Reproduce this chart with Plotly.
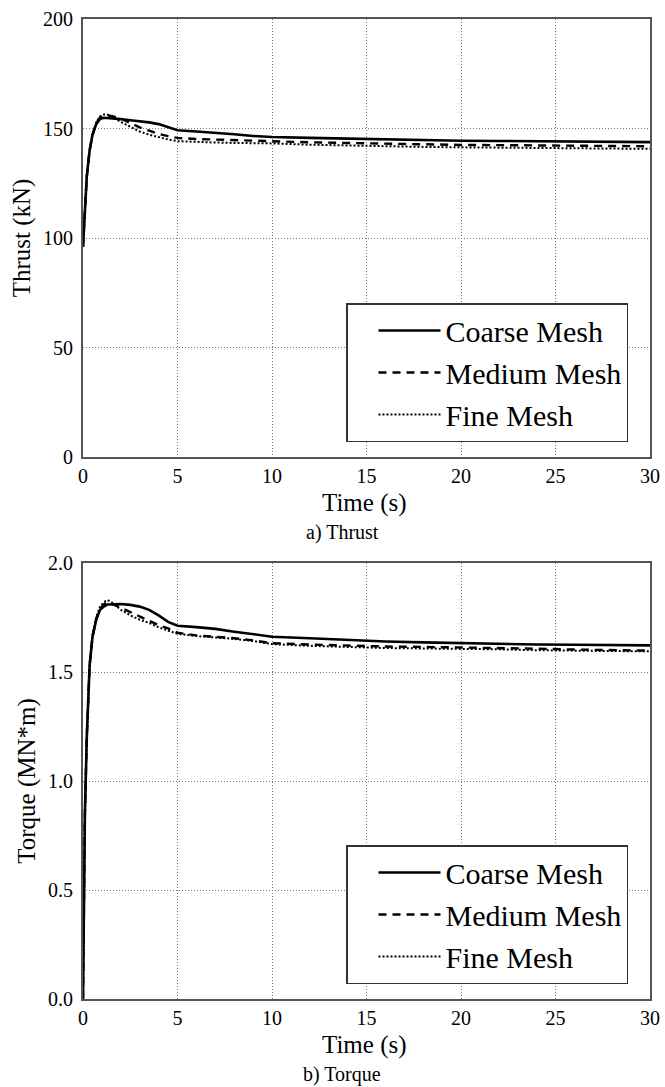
import plotly.graph_objects as go
from plotly.subplots import make_subplots

# ---- data ----
time_s = [0, 0.1, 0.2, 0.35, 0.5, 0.7, 0.9, 1.1, 1.3, 1.6, 2.0, 2.5, 3.0, 3.5, 4.0, 4.5,
          5, 6, 7, 8, 9, 10, 12, 14, 16, 18, 20, 22, 24, 26, 28, 30]

thrust_coarse = [96, 115, 128, 140, 147, 152, 154.3, 154.9, 154.8, 154.6, 154.3, 153.8,
                 153.4, 152.8, 152.0, 150.5, 149.2, 148.6, 148.1, 147.4, 146.6, 146.1,
                 145.7, 145.3, 145.0, 144.7, 144.4, 144.3, 144.2, 144.0, 143.9, 143.8]
thrust_medium = [96, 115, 128, 140, 147, 152.5, 155.0, 155.8, 156.0, 155.5, 154.5, 152.5,
                 150.5, 149.0, 147.5, 146.5, 145.7, 145.2, 144.9, 144.6, 144.4, 144.2,
                 143.7, 143.4, 143.0, 142.8, 142.5, 142.4, 142.2, 142.1, 142.0, 141.9]
thrust_fine = [96, 115, 128, 140, 147, 152.8, 155.5, 156.4, 156.3, 155.2, 153.0, 150.8,
               148.6, 147.2, 146.0, 145.0, 144.2, 143.8, 143.6, 143.4, 143.3, 143.2,
               142.6, 142.2, 141.8, 141.6, 141.4, 141.2, 141.0, 140.9, 140.8, 140.7]

torque_coarse = [0.0, 0.85, 1.2, 1.53, 1.66, 1.74, 1.785, 1.80, 1.81, 1.812, 1.812, 1.808,
                 1.80, 1.785, 1.76, 1.73, 1.712, 1.706, 1.698, 1.685, 1.672, 1.662,
                 1.655, 1.647, 1.640, 1.636, 1.632, 1.629, 1.626, 1.625, 1.623, 1.622]
torque_medium = [0.0, 0.85, 1.2, 1.53, 1.66, 1.745, 1.79, 1.81, 1.82, 1.81, 1.795, 1.775,
                 1.755, 1.735, 1.715, 1.70, 1.68, 1.668, 1.662, 1.655, 1.645, 1.632,
                 1.626, 1.621, 1.617, 1.615, 1.613, 1.610, 1.607, 1.603, 1.600, 1.598]
torque_fine = [0.0, 0.85, 1.2, 1.53, 1.67, 1.75, 1.80, 1.82, 1.83, 1.815, 1.785, 1.76,
               1.74, 1.725, 1.705, 1.69, 1.675, 1.665, 1.66, 1.652, 1.642, 1.628,
               1.620, 1.614, 1.610, 1.608, 1.607, 1.604, 1.600, 1.597, 1.596, 1.595]

series_names = ["Coarse Mesh", "Medium Mesh", "Fine Mesh"]
x_ticks = [0, 5, 10, 15, 20, 25, 30]
thrust_ticks = [0, 50, 100, 150, 200]
torque_ticks = [0.0, 0.5, 1.0, 1.5, 2.0]
x_title = "Time (s)"
captions = ["a) Thrust", "b) Torque"]

# ---- styling ----
FONT = "Liberation Serif"
styles = [dict(color="black", width=2.6, dash="solid"),
          dict(color="black", width=2.4, dash="8px,6px"),
          dict(color="black", width=2.0, dash="2px,2px")]

W, H = 665, 1087
ML, MR, MT, MB = 83, 15, 19, 88
PH = H - MT - MB  # paper height
PW = W - ML - MR


def py(pix):  # pixel y -> paper y
    return (H - MB - pix) / PH


def px(pix):
    return (pix - ML) / PW


fig = make_subplots(rows=2, cols=1, vertical_spacing=0.0)

for i, (name, vals) in enumerate(zip(series_names, [thrust_coarse, thrust_medium, thrust_fine])):
    fig.add_trace(go.Scatter(x=time_s, y=vals, mode="lines", name=name, line=styles[i],
                             legend="legend"), row=1, col=1)
for i, (name, vals) in enumerate(zip(series_names, [torque_coarse, torque_medium, torque_fine])):
    fig.add_trace(go.Scatter(x=time_s, y=vals, mode="lines", name=name, line=styles[i],
                             legend="legend2"), row=2, col=1)

axis_common = dict(showline=True, mirror=True, linecolor="#555555", linewidth=2,
                   showgrid=True, gridcolor="#7a7a7a", gridwidth=1, griddash="1px,2px",
                   zeroline=False, ticks="", automargin=False,
                   tickfont=dict(family=FONT, size=20, color="black"))

fig.update_xaxes(axis_common, range=[0, 30], tickvals=x_ticks)
fig.update_yaxes(axis_common, ticklabelstandoff=4)

fig.update_layout(
    yaxis=dict(domain=[py(457), 1.0], range=[0, 200], tickvals=thrust_ticks,
               title=dict(text="Thrust (kN)", font=dict(family=FONT, size=25, color="black"), standoff=5)),
    yaxis2=dict(domain=[0.0, py(563)], range=[0, 2.0], tickvals=torque_ticks, tickformat=".1f",
                title=dict(text="Torque (MN*m)", font=dict(family=FONT, size=25, color="black"), standoff=5)),
)

legend_common = dict(bgcolor="white", bordercolor="#333333", borderwidth=1.5,
                     font=dict(family=FONT, size=30, color="black"),
                     itemwidth=62, indentation=26, xanchor="left", yanchor="bottom",
                     tracegroupgap=0, itemclick=False)
fig.update_layout(
    legend=dict(legend_common, x=px(346), y=py(442)),
    legend2=dict(legend_common, x=px(346), y=py(984)),
)

# x-axis titles ("Time (s)") and sub-figure captions
for axis_bottom in (457, 999):
    fig.add_annotation(text=x_title, xref="paper", yref="paper", x=px(364), y=py(axis_bottom + 46),
                       xanchor="center", yanchor="middle", showarrow=False,
                       font=dict(family=FONT, size=25, color="black"))
for cap, axis_bottom in zip(captions, (457, 999)):
    fig.add_annotation(text=cap, xref="paper", yref="paper", x=px(342), y=py(axis_bottom + 75),
                       xanchor="center", yanchor="middle", showarrow=False,
                       font=dict(family=FONT, size=20, color="black"))

fig.update_layout(width=W, height=H, margin=dict(l=ML, r=MR, t=MT, b=MB),
                  plot_bgcolor="white", paper_bgcolor="white", showlegend=True)

fig.write_html("out.html", config={"displayModeBar": False},
               post_script="document.body.style.margin='0px';")
